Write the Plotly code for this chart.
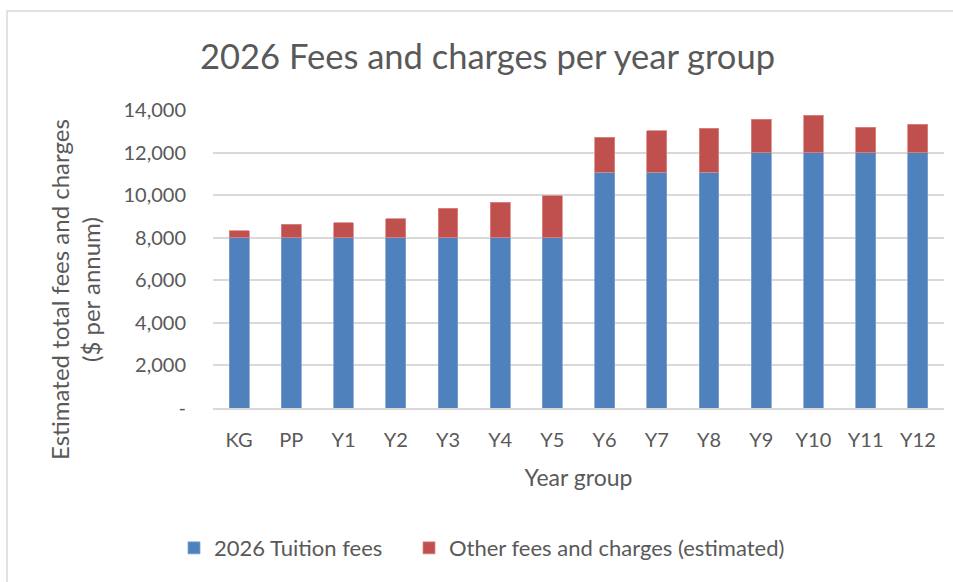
import plotly.graph_objects as go

categories = ["KG", "PP", "Y1", "Y2", "Y3", "Y4", "Y5", "Y6", "Y7", "Y8", "Y9", "Y10", "Y11", "Y12"]
tuition = [8000, 8000, 8000, 8000, 8000, 8000, 8000, 11070, 11070, 11070, 12000, 12000, 12000, 12000]
other = [330, 630, 700, 880, 1390, 1670, 1970, 1640, 1960, 2070, 1560, 1750, 1200, 1320]
tick_vals = [0, 2000, 4000, 6000, 8000, 10000, 12000, 14000]
tick_text = ["-", "2,000", "4,000", "6,000", "8,000", "10,000", "12,000", "14,000"]

FONT = "Lato"
GREY = "#595959"

fig = go.Figure()
fig.add_trace(go.Bar(x=categories, y=tuition, name="2026 Tuition fees", legend="legend",
                     showlegend=True,
                     marker=dict(color="#4f81bd", line=dict(color="#7fa3d0", width=0.8))))
fig.add_trace(go.Bar(x=categories, y=other, name="Other fees and charges (estimated)", legend="legend2",
                     showlegend=True,
                     marker=dict(color="#c0504d", line=dict(color="#d98886", width=0.8))))

legend_common = dict(orientation="h", xanchor="left", y=-0.47, yanchor="middle",
                     font=dict(size=22, color=GREY), itemwidth=30, bgcolor="rgba(0,0,0,0)")

fig.update_layout(
    width=953, height=582, showlegend=True,
    barmode="stack", bargap=0.62,
    paper_bgcolor="white", plot_bgcolor="white",
    font=dict(family=FONT, color=GREY, size=20),
    margin=dict(l=213, r=9, t=110, b=174),
    title=dict(text="2026 Fees and charges per year group", x=0.5116, xanchor="center",
               y=0.902, yanchor="middle", font=dict(size=34.5, color=GREY, family=FONT)),
    legend=dict(x=(174 - 213) / 731, **legend_common),
    legend2=dict(x=(409 - 213) / 731, **legend_common),
    xaxis=dict(title=dict(text="Year group", font=dict(size=23, color=GREY), standoff=20),
               showgrid=False, showline=True, linecolor="#d9d9d9", linewidth=1.5,
               ticks="", tickfont=dict(size=20, color=GREY), ticklabelstandoff=13),
    yaxis=dict(range=[0, 14000], tickvals=tick_vals, ticktext=tick_text,
               showgrid=True, gridcolor="#d9d9d9", gridwidth=1.5, zeroline=False,
               ticks="", tickfont=dict(size=20, color=GREY), ticklabelstandoff=26),
    annotations=[dict(text="Estimated total fees and charges<br>($ per annum)",
                      xref="paper", yref="paper", x=(75 - 213) / 731, y=(408 - 290) / 298,
                      xanchor="center", yanchor="middle", textangle=-90, showarrow=False,
                      font=dict(size=24, color=GREY, family=FONT))],
    shapes=[dict(type="rect", xref="paper", yref="paper", x0=-0.2818, x1=1.03, y0=-0.7, y1=1.332,
                 line=dict(color="#d9d9d9", width=1.5), fillcolor="rgba(0,0,0,0)", layer="below")],
)

fig.write_html("out.html", config={"displayModeBar": False},
               post_script="document.body.style.margin='0px';")
